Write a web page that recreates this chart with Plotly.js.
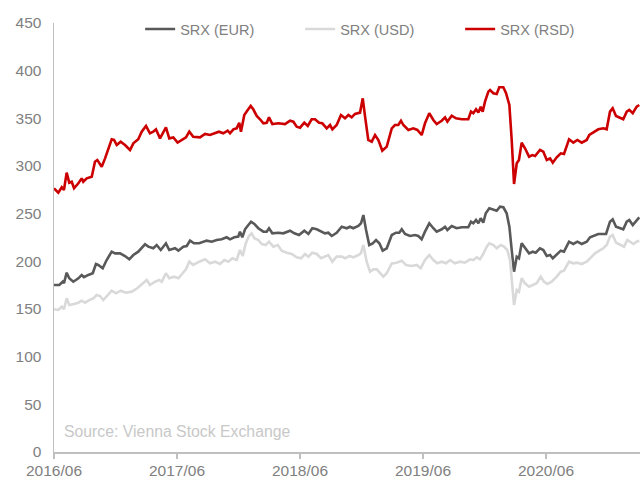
<!DOCTYPE html>
<html>
<head>
<meta charset="utf-8">
<script src="https://cdn.plot.ly/plotly-3.0.1.min.js"></script>
<style>
  html, body { margin: 0; padding: 0; background: #ffffff; }
  #chart { width: 640px; height: 478px; }
</style>
</head>
<body>
<div id="chart"></div>
<script>
// Time expressed as decimal year (2016.417 = June 2016)
const eurX = [2016.417,2016.460,2016.488,2016.498,2016.520,2016.541,2016.574,2016.615,2016.642,2016.661,2016.696,2016.732,2016.758,2016.777,2016.813,2016.845,2016.886,2016.913,2016.954,2016.994,2017.029,2017.062,2017.102,2017.157,2017.184,2017.224,2017.252,2017.285,2017.327,2017.354,2017.401,2017.428,2017.468,2017.496,2017.523,2017.555,2017.598,2017.618,2017.658,2017.699,2017.740,2017.780,2017.821,2017.848,2017.883,2017.915,2017.929,2017.948,2017.970,2017.997,2018.019,2018.046,2018.078,2018.119,2018.146,2018.165,2018.192,2018.241,2018.281,2018.336,2018.371,2018.409,2018.452,2018.485,2018.517,2018.553,2018.588,2018.620,2018.647,2018.675,2018.715,2018.756,2018.797,2018.823,2018.850,2018.891,2018.913,2018.932,2018.954,2018.980,2019.008,2019.035,2019.062,2019.089,2019.122,2019.163,2019.197,2019.224,2019.244,2019.271,2019.311,2019.352,2019.379,2019.406,2019.433,2019.468,2019.501,2019.528,2019.569,2019.596,2019.615,2019.650,2019.691,2019.732,2019.785,2019.807,2019.826,2019.848,2019.867,2019.886,2019.907,2019.927,2019.956,2019.989,2020.016,2020.043,2020.070,2020.097,2020.119,2020.138,2020.157,2020.179,2020.197,2020.219,2020.246,2020.279,2020.309,2020.333,2020.368,2020.395,2020.423,2020.450,2020.472,2020.504,2020.537,2020.563,2020.604,2020.639,2020.672,2020.707,2020.748,2020.775,2020.815,2020.842,2020.883,2020.905,2020.937,2020.959,2020.986,2021.024,2021.045,2021.073,2021.094,2021.122,2021.154,2021.175];
const eurY = [175.2,175.2,178.6,177,188.1,182.2,178.6,182.2,185.7,183.3,185.7,187.5,197.2,196.2,192.7,201.4,210.1,208.4,208.4,205.6,202.1,206.6,210.1,217.9,215.4,213.7,217.1,211.9,218.9,211.9,213.7,211.2,215.4,216.1,221.7,218.9,218.9,219.6,221.7,220.6,222.4,223.1,225.2,223.1,225.2,225.9,231.1,225.2,233.6,238.1,241.6,239.2,234.7,231.1,231.1,234.7,229.4,230,229.4,232.1,229.4,227.6,232.1,228.7,234.7,233.6,231.1,229.4,230,226.6,230,236.3,234.7,236.3,234.7,237.1,239.9,248.6,232.9,217.1,218.9,222.4,218.9,211.2,213.7,227.6,230,230,233.6,228.7,226.6,227.6,226.6,223.1,231.1,239.9,234.7,231.1,233.6,236.3,232.9,237.1,234.7,235.7,235.7,241.6,239.9,243.4,239.9,245.2,240.5,250.4,255.6,253.9,253.1,257.3,256.7,250.4,236.3,211.9,189.1,204.9,203.2,218.9,213.7,208.4,210.1,209.1,213.7,211.9,205.6,206.6,203.2,207.7,211.2,210.1,220.6,218.2,220.6,218.2,220.6,225.2,227.6,228.7,228.7,228.7,241.6,244.1,236.3,234.7,233.6,241.6,243.4,238.1,243.4,246.2];

const usdX = [2016.417,2016.452,2016.480,2016.498,2016.520,2016.541,2016.580,2016.615,2016.642,2016.669,2016.704,2016.737,2016.764,2016.791,2016.818,2016.845,2016.886,2016.921,2016.959,2017.002,2017.049,2017.094,2017.138,2017.171,2017.197,2017.238,2017.273,2017.293,2017.327,2017.354,2017.393,2017.428,2017.463,2017.490,2017.517,2017.549,2017.598,2017.645,2017.685,2017.726,2017.767,2017.802,2017.834,2017.867,2017.902,2017.929,2017.951,2017.976,2018.002,2018.024,2018.046,2018.078,2018.106,2018.138,2018.165,2018.200,2018.236,2018.268,2018.309,2018.350,2018.390,2018.425,2018.458,2018.485,2018.517,2018.553,2018.588,2018.620,2018.647,2018.680,2018.715,2018.756,2018.783,2018.818,2018.850,2018.891,2018.911,2018.932,2018.959,2018.986,2019.013,2019.041,2019.067,2019.094,2019.122,2019.163,2019.203,2019.244,2019.279,2019.325,2019.366,2019.398,2019.433,2019.468,2019.501,2019.533,2019.569,2019.604,2019.637,2019.677,2019.718,2019.758,2019.799,2019.826,2019.854,2019.880,2019.907,2019.935,2019.956,2019.989,2020.016,2020.049,2020.075,2020.102,2020.124,2020.143,2020.157,2020.179,2020.197,2020.219,2020.246,2020.279,2020.309,2020.341,2020.374,2020.401,2020.428,2020.463,2020.504,2020.537,2020.563,2020.604,2020.639,2020.672,2020.707,2020.748,2020.775,2020.815,2020.850,2020.883,2020.910,2020.937,2020.959,2020.986,2021.024,2021.051,2021.078,2021.100,2021.127,2021.154,2021.175];
const usdY = [149.7,149,152.4,149.7,161.2,154.2,155.2,156.6,158.7,156.6,159.4,161.2,164.7,163.6,159.4,163.6,169.2,166.5,169.2,167.1,168.2,171.7,177,180.4,175.2,178.6,180.4,178.6,187.5,182.2,183.9,182.2,187.5,191.6,199.6,196.2,199.6,202.1,197.9,199.6,197.2,201.4,199.6,203.2,201.4,211.9,205.6,218.9,226.6,229.4,224.2,222.4,218.2,217.1,220.6,215.4,217.1,211.2,209.1,207.7,204.2,203.2,207.7,204.9,209.1,207.7,203.2,204.9,206.6,199.6,204.9,204.9,203.2,205.6,204.2,206.6,208.4,217.1,199.6,189.1,191.6,191.6,187.5,183.9,187.5,197.9,198.6,200.7,196.2,195.1,196.2,192.7,201.4,206.6,201.4,197.9,199.6,197.9,201.4,197.9,199.6,198.6,202.1,201.4,204.2,202.1,207.7,215.4,218.9,217.1,213.7,217.1,215.4,211.9,201.4,177,154.2,169.9,168.2,182.2,177,173.4,175.2,177,183.9,178.6,176.2,178.6,183.9,189.1,190.2,199.6,197.9,198.6,197.2,199.6,203.2,208.4,211.2,213.7,217.1,225.9,227.6,219.6,217.1,215.4,222.4,220.6,218.2,220.6,221.7];

const rsdX = [2016.417,2016.452,2016.480,2016.498,2016.520,2016.541,2016.561,2016.580,2016.615,2016.642,2016.655,2016.683,2016.724,2016.750,2016.769,2016.805,2016.832,2016.858,2016.886,2016.905,2016.927,2016.959,2016.994,2017.035,2017.062,2017.102,2017.130,2017.165,2017.197,2017.224,2017.246,2017.279,2017.327,2017.354,2017.387,2017.422,2017.455,2017.490,2017.517,2017.549,2017.604,2017.645,2017.685,2017.726,2017.758,2017.793,2017.829,2017.848,2017.875,2017.902,2017.923,2017.937,2017.964,2017.992,2018.016,2018.037,2018.065,2018.092,2018.119,2018.146,2018.165,2018.192,2018.241,2018.295,2018.336,2018.363,2018.390,2018.417,2018.452,2018.480,2018.512,2018.539,2018.572,2018.598,2018.634,2018.661,2018.680,2018.715,2018.750,2018.783,2018.810,2018.837,2018.864,2018.905,2018.927,2018.946,2018.972,2019.000,2019.027,2019.054,2019.086,2019.122,2019.163,2019.189,2019.216,2019.238,2019.257,2019.298,2019.338,2019.371,2019.406,2019.433,2019.468,2019.501,2019.528,2019.569,2019.596,2019.615,2019.650,2019.685,2019.732,2019.785,2019.807,2019.826,2019.848,2019.867,2019.886,2019.902,2019.921,2019.948,2019.962,2019.989,2020.016,2020.037,2020.070,2020.092,2020.119,2020.138,2020.157,2020.179,2020.197,2020.219,2020.246,2020.279,2020.306,2020.328,2020.368,2020.395,2020.423,2020.450,2020.472,2020.504,2020.537,2020.563,2020.604,2020.639,2020.672,2020.707,2020.748,2020.769,2020.815,2020.842,2020.883,2020.910,2020.937,2020.959,2020.986,2021.018,2021.045,2021.073,2021.094,2021.122,2021.154,2021.175];
const rsdY = [276.6,272,277.7,274.8,293,282.5,283.5,276.6,281.9,287,283.5,287,288.8,304.5,306.3,299.3,308,318.6,328,327.3,322,325.5,322,316.8,323.8,328,336,342,334.3,336,338.5,329,340.6,329,330,324.5,327.3,330,336,330.7,330,333.6,332.5,334.3,336,334.3,337,334.3,338.5,339.5,345.4,336,353.5,358.8,363,359.5,352.5,349,344.8,345.4,351,344,344.8,344,347.5,346.5,341.2,340.2,345.4,342,349,349,345.4,344.8,339.5,343,338.5,343,353.5,350,353.5,351,354.6,356,371,351.7,327.3,325.5,332.5,327.3,316,320.3,339.5,343,343,347.5,343,337.8,339.5,337.8,332.5,344.8,355.3,348.3,344,347.5,351,346.5,352.8,350,349,349,357,355.3,359.5,356,362.2,357,367.5,378,379.7,376.3,375.5,382.6,382.6,376.3,364,327.3,281.1,302.8,306.3,324.5,318.6,309.8,311.5,310.5,316.8,315,306.3,308,303.5,309.1,313.3,312.6,328,324.5,327.3,324.5,327.3,332.5,336,338.5,339.5,338.5,357,360.5,352.5,351,349,357,358.8,355.3,362.2,364];

const seriesNames = ['SRX (EUR)', 'SRX (USD)', 'SRX (RSD)'];
const seriesColors = ['#595959', '#d9d9d9', '#cc0000'];
const tickVals = [2016.417, 2017.417, 2018.417, 2019.417, 2020.417];
const tickText = ['2016/06', '2017/06', '2018/06', '2019/06', '2020/06'];
const sourceText = 'Source: Vienna Stock Exchange';

const xs = [eurX, usdX, rsdX];
const ys = [eurY, usdY, rsdY];
const traces = seriesNames.map((name, i) => ({
  type: 'scatter',
  mode: 'lines',
  name: name,
  x: xs[i],
  y: ys[i],
  line: { color: seriesColors[i], width: 2.6 },
  hoverinfo: 'skip'
}));

const axisColor = '#bfbfbf';
const textColor = '#808080';
const font = 'Liberation Sans, Arial, sans-serif';

const layout = {
  width: 640,
  height: 478,
  margin: { l: 54, r: 0, t: 23, b: 26, pad: 0 },
  paper_bgcolor: '#ffffff',
  plot_bgcolor: '#ffffff',
  font: { family: font, size: 15.5, color: textColor },
  showlegend: true,
  legend: {
    orientation: 'h',
    x: 0.147, xanchor: 'left',
    y: 1.023, yanchor: 'top',
    font: { family: font, size: 14.5, color: textColor },
    entrywidth: 115, entrywidthmode: 'pixels',
    bgcolor: 'rgba(0,0,0,0)',
    borderwidth: 0
  },
  xaxis: {
    type: 'linear',
    range: [2016.417, 2021.181],
    tickvals: tickVals,
    ticktext: tickText,
    ticks: 'outside',
    ticklen: 5,
    tickwidth: 1.5,
    tickcolor: axisColor,
    showline: true,
    linecolor: axisColor,
    linewidth: 1.5,
    showgrid: false,
    zeroline: false,
    automargin: false,
    fixedrange: true,
    ticklabelstandoff: -1,
    tickfont: { family: font, size: 15.5, color: textColor }
  },
  yaxis: {
    range: [0, 450],
    dtick: 50,
    tick0: 0,
    ticks: '',
    showline: true,
    linecolor: axisColor,
    linewidth: 1.5,
    showgrid: false,
    zeroline: false,
    automargin: false,
    fixedrange: true,
    ticklabelstandoff: 8,
    tickfont: { family: font, size: 15.5, color: textColor }
  },
  annotations: [{
    text: sourceText,
    xref: 'paper', yref: 'paper',
    x: 0.013, y: 0.047,
    xanchor: 'left', yanchor: 'middle',
    showarrow: false,
    font: { family: font, size: 15.8, color: '#c8c8c8' }
  }]
};

Plotly.newPlot('chart', traces, layout, { displayModeBar: false, staticPlot: true });
</script>
</body>
</html>
